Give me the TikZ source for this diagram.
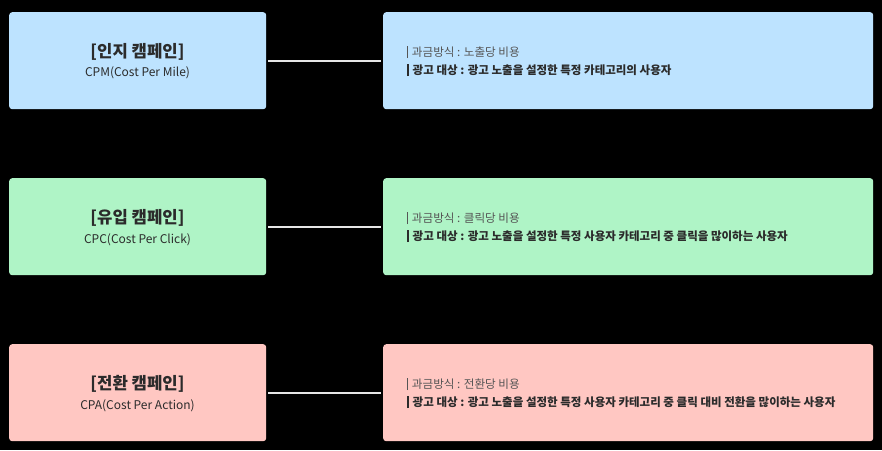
\documentclass[tikz,border=0pt]{standalone}
\usepackage{fontspec}
\setmainfont{Noto Sans CJK KR}
\definecolor{cblue}{HTML}{BDE3FF}
\definecolor{cgreen}{HTML}{AFF4C6}
\definecolor{cred}{HTML}{FFC7C2}
\definecolor{tdark}{HTML}{2B2B2B}
\definecolor{tgray}{HTML}{555555}
\definecolor{linec}{HTML}{E6E6E6}
\newcommand{\qbar}[2]{{\color{#1}\rule[-2pt]{#2}{12pt}}\hspace{3.5pt}}
\tikzset{
  leftbox/.style={rounded corners=3pt, minimum width=257pt, minimum height=97pt, inner sep=0pt},
  rightbox/.style={rounded corners=3pt, minimum width=490pt, minimum height=97pt, inner sep=0pt},
  titletext/.style={font=\fontsize{16.7}{18}\selectfont\bfseries, text=tdark, inner sep=0pt},
  subtext/.style={font=\fontsize{12}{13}\selectfont, text=tdark, inner sep=0pt},
  lineone/.style={font=\fontsize{11.6}{12}\selectfont, text=tgray, anchor=west, inner sep=0pt},
  linetwo/.style={font=\fontsize{11.5}{12}\selectfont\bfseries, text=tdark, anchor=west, inner sep=0pt},
  conn/.style={draw=linec, line width=2pt}
}
\begin{document}
\begin{tikzpicture}[x=1pt,y=-1pt]
\useasboundingbox[fill=black] (0,0) rectangle (882,450);
% row 1
\node[leftbox, fill=cblue, anchor=north west] (l1) at (9,12) {};
\node[rightbox, fill=cblue, anchor=north west] (r1) at (383,12) {};
\node[titletext] (t1) at (137.5,52) {[인지 캠페인]};
\node[subtext] (s1) at (137.5,73) {CPM(Cost Per Mile)};
\node[lineone] (a1) at (407,52) {\qbar{tgray}{1.2pt}과금방식 : 노출당 비용};
\node[linetwo] (b1) at (407,70) {\qbar{tdark}{2pt}광고 대상 : 광고 노출을 설정한 특정 카테고리의 사용자};
\draw[conn] (l1.east) ++(2,0) -- ([xshift=-2pt]r1.west);
% row 2
\node[leftbox, fill=cgreen, anchor=north west] (l2) at (9,178) {};
\node[rightbox, fill=cgreen, anchor=north west] (r2) at (383,178) {};
\node[titletext] (t2) at (137.5,218) {[유입 캠페인]};
\node[subtext] (s2) at (137.5,240) {CPC(Cost Per Click)};
\node[lineone] (a2) at (407,218) {\qbar{tgray}{1.2pt}과금방식 : 클릭당 비용};
\node[linetwo] (b2) at (407,236) {\qbar{tdark}{2pt}광고 대상 : 광고 노출을 설정한 특정 사용자 카테고리 중 클릭을 많이하는 사용자};
\draw[conn] (l2.east) ++(2,0) -- ([xshift=-2pt]r2.west);
% row 3
\node[leftbox, fill=cred, anchor=north west] (l3) at (9,344) {};
\node[rightbox, fill=cred, anchor=north west] (r3) at (383,344) {};
\node[titletext] (t3) at (137.5,384) {[전환 캠페인]};
\node[subtext] (s3) at (137.5,406) {CPA(Cost Per Action)};
\node[lineone] (a3) at (407,384) {\qbar{tgray}{1.2pt}과금방식 : 전환당 비용};
\node[linetwo] (b3) at (407,402) {\qbar{tdark}{2pt}광고 대상 : 광고 노출을 설정한 특정 사용자 카테고리 중 클릭 대비 전환을 많이하는 사용자};
\draw[conn] (l3.east) ++(2,0) -- ([xshift=-2pt]r3.west);
\end{tikzpicture}
\end{document}
